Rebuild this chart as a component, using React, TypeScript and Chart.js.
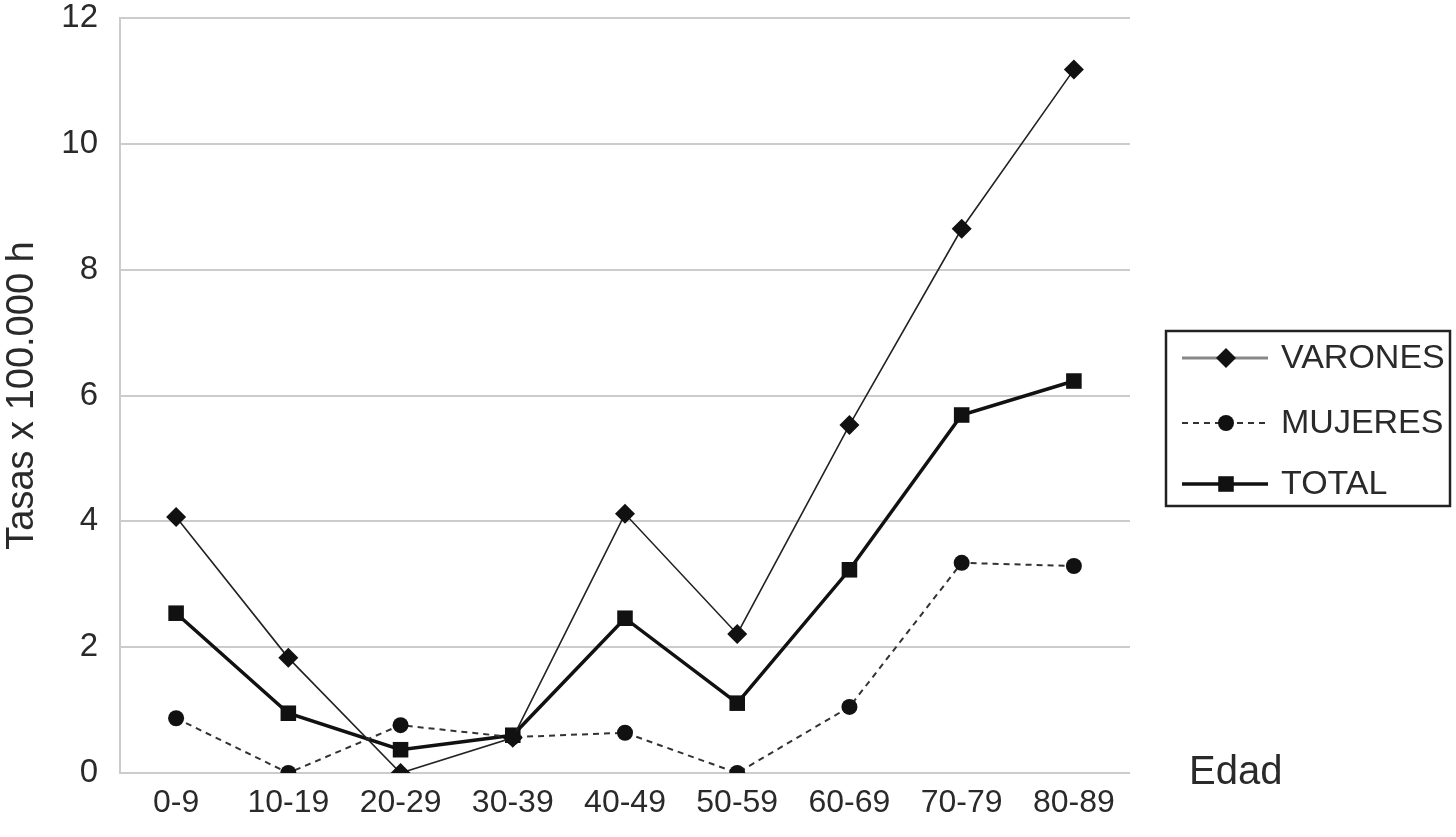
import React, { useEffect, useRef } from "react";
import { Chart, registerables } from "chart.js";

Chart.register(...registerables);

const ageLabels = ["0-9", "10-19", "20-29", "30-39", "40-49", "50-59", "60-69", "70-79", "80-89"];
const varones = [4.07, 1.83, 0.0, 0.56, 4.12, 2.21, 5.53, 8.65, 11.18];
const mujeres = [0.87, 0.0, 0.76, 0.57, 0.64, 0.0, 1.05, 3.34, 3.29];
const total = [2.54, 0.95, 0.37, 0.6, 2.46, 1.11, 3.23, 5.69, 6.23];
const seriesNames = ["VARONES", "MUJERES", "TOTAL"];
const yTitle = "Tasas x 100.000 h";
const xTitle = "Edad";

const FONT = "'Liberation Sans', Arial, sans-serif";
const TEXT = "#2a2a2a";
const GRID = "#cccccc";

function drawMarker(ctx: CanvasRenderingContext2D, style: string, r: number, x: number, y: number) {
  ctx.beginPath();
  if (style === "circle") {
    ctx.arc(x, y, r, 0, Math.PI * 2);
  } else if (style === "rectRot") {
    ctx.moveTo(x, y - r);
    ctx.lineTo(x + r, y);
    ctx.lineTo(x, y + r);
    ctx.lineTo(x - r, y);
    ctx.closePath();
  } else {
    const h = r * Math.SQRT1_2;
    ctx.rect(x - h, y - h, 2 * h, 2 * h);
  }
  ctx.fill();
}

const legendPlugin = {
  id: "customLegend",
  afterDraw(chart: any) {
    const ctx = chart.ctx;
    ctx.save();
    ctx.fillStyle = TEXT;
    ctx.font = `40px ${FONT}`;
    ctx.textBaseline = "middle";
    ctx.textAlign = "left";
    ctx.fillText(xTitle, 1189, 773);

    const bx = 1166, by = 331, bw = 284, bh = 175;
    ctx.strokeStyle = "#222";
    ctx.lineWidth = 2.5;
    ctx.strokeRect(bx, by, bw, bh);
    const rows = [358, 423, 484];
    const styles = [
      { color: "#888", width: 3, dash: [] as number[], marker: "rectRot", r: 10 },
      { color: "#333", width: 2, dash: [6, 5], marker: "circle", r: 8 },
      { color: "#111", width: 3.5, dash: [] as number[], marker: "rect", r: 11 },
    ];
    rows.forEach((y, i) => {
      const s = styles[i];
      ctx.beginPath();
      ctx.strokeStyle = s.color;
      ctx.lineWidth = s.width;
      ctx.setLineDash(s.dash);
      ctx.moveTo(1182, y);
      ctx.lineTo(1268, y);
      ctx.stroke();
      ctx.setLineDash([]);
      ctx.fillStyle = "#111";
      drawMarker(ctx, s.marker, s.r, 1226, y);
      ctx.fillStyle = TEXT;
      ctx.font = `34px ${FONT}`;
      ctx.textBaseline = "middle";
      ctx.textAlign = "left";
      ctx.fillText(seriesNames[i], 1281, y + 1);
    });
    ctx.restore();
  },
};

export default function App() {
  const ref = useRef<HTMLCanvasElement>(null);
  useEffect(() => {
    document.body.style.margin = "0";
    document.body.style.background = "#ffffff";
    if (!ref.current) return;
    const chart = new Chart(ref.current, {
      type: "line",
      data: {
        labels: ageLabels,
        datasets: [
          {
            label: seriesNames[0],
            data: varones,
            borderColor: "#222",
            backgroundColor: "#111",
            borderWidth: 1.6,
            pointStyle: "rectRot",
            pointRadius: 10,
            pointBorderWidth: 0,
            pointBackgroundColor: "#111",
            tension: 0,
          },
          {
            label: seriesNames[1],
            data: mujeres,
            borderColor: "#333",
            backgroundColor: "#111",
            borderWidth: 2,
            borderDash: [6, 5],
            pointStyle: "circle",
            pointRadius: 8,
            pointBorderWidth: 0,
            pointBackgroundColor: "#111",
            tension: 0,
          },
          {
            label: seriesNames[2],
            data: total,
            borderColor: "#111",
            backgroundColor: "#111",
            borderWidth: 3.5,
            pointStyle: "rect",
            pointRadius: 11,
            pointBorderWidth: 0,
            pointBackgroundColor: "#111",
            tension: 0,
          },
        ],
      },
      options: {
        animation: false,
        responsive: false,
        maintainAspectRatio: false,
        layout: { autoPadding: false, padding: { top: 18, right: 326, bottom: 0, left: 0 } },
        plugins: {
          legend: { display: false },
          tooltip: { enabled: false },
        },
        scales: {
          x: {
            offset: true,
            grid: { display: false, drawTicks: false },
            border: { display: false },
            ticks: {
              color: TEXT,
              font: { family: FONT, size: 32 },
              padding: 11,
              maxRotation: 0,
              autoSkip: false,
            },
            afterFit(scale: any) {
              scale.height = 64;
              scale.paddingLeft = 0;
              scale.paddingRight = 0;
            },
          },
          y: {
            min: 0,
            max: 12,
            ticks: {
              stepSize: 2,
              color: TEXT,
              font: { family: FONT, size: 33, lineHeight: 1.1 },
              padding: 22,
            },
            grid: { color: GRID, lineWidth: 2, drawTicks: false },
            border: { display: true, color: GRID, width: 2 },
            title: {
              display: true,
              text: yTitle,
              color: TEXT,
              font: { family: FONT, size: 38, lineHeight: 1 },
              padding: { top: 4, bottom: 0 },
            },
            afterFit(scale: any) {
              scale.width = 120;
              scale.paddingTop = 0;
              scale.paddingBottom = 0;
            },
          },
        },
      },
      plugins: [legendPlugin],
    });
    return () => chart.destroy();
  }, []);
  return (
    <div style={{ width: 1456, height: 837 }}>
      <canvas ref={ref} width={1456} height={837} style={{ display: "block" }} />
    </div>
  );
}
